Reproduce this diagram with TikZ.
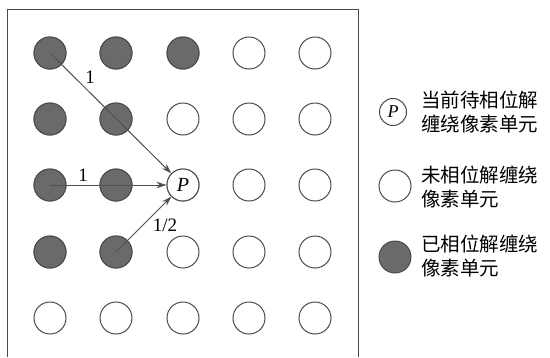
\documentclass[tikz,border=0pt]{standalone}
\usepackage{fontspec}
\setmainfont{Liberation Serif}
\newfontfamily\cjk{Noto Sans CJK SC}
\usetikzlibrary{arrows.meta}
\definecolor{dotfill}{HTML}{6A6A6A}
\definecolor{dotline}{HTML}{4A4A4A}
\definecolor{arrowc}{HTML}{505050}
\tikzset{
  pix/.style={circle, minimum size=32pt, inner sep=0pt, line width=1pt, draw=dotline},
  donepix/.style={pix, fill=dotfill},
  openpix/.style={pix, fill=white},
  wt/.style={font=\fontsize{19}{19}\selectfont, inner sep=0pt},
  link/.style={draw=arrowc, line width=1pt, -{Stealth[length=10pt,width=6.5pt]}},
  legtext/.style={font=\cjk\fontsize{19.5}{24}\selectfont, align=left, anchor=west, inner sep=0pt}
}
\begin{document}
\begin{tikzpicture}[x=1pt,y=-1pt]
\useasboundingbox (0,0) rectangle (550,357);
\draw[draw=dotline, line width=1pt] (7,357) -- (7,9) -- (358,9) -- (358,357);
% grid
\foreach \r/\y in {1/53,2/119,3/185,4/252,5/318}{
  \foreach \c/\x in {1/50,2/116,3/183,4/249,5/315}{
    \node[openpix] (c\r\c) at (\x,\y) {};
  }
}
\node[donepix] at (c11) {};
\node[donepix] at (c12) {};
\node[donepix] at (c13) {};
\node[donepix] at (c21) {};
\node[donepix] at (c22) {};
\node[donepix] at (c31) {};
\node[donepix] at (c32) {};
\node[donepix] at (c41) {};
\node[donepix] at (c42) {};
\node[openpix, font=\fontsize{20}{20}\selectfont\itshape] (P) at (c33) {P};
% arrows
\draw[link] (c11.center) -- (P);
\node[wt] at (90,77) {1};
\draw[link] (c31.center) -- (P);
\node[wt] at (83,175) {1};
\draw[link] (c42.center) -- (P);
\node[wt] at (165,225) {1/2};
% legend
\node[pix, minimum size=27pt, font=\fontsize{18}{18}\selectfont\itshape] (lp) at (393,112) {P};
\node[legtext] (lt1) at (421,112) {当前待相位解\\缠绕像素单元};
\node[openpix] (lo) at (395,186) {};
\node[legtext] (lt2) at (421,187) {未相位解缠绕\\像素单元};
\node[donepix] (ld) at (395,257) {};
\node[legtext] (lt3) at (421,256) {已相位解缠绕\\像素单元};
\end{tikzpicture}
\end{document}
